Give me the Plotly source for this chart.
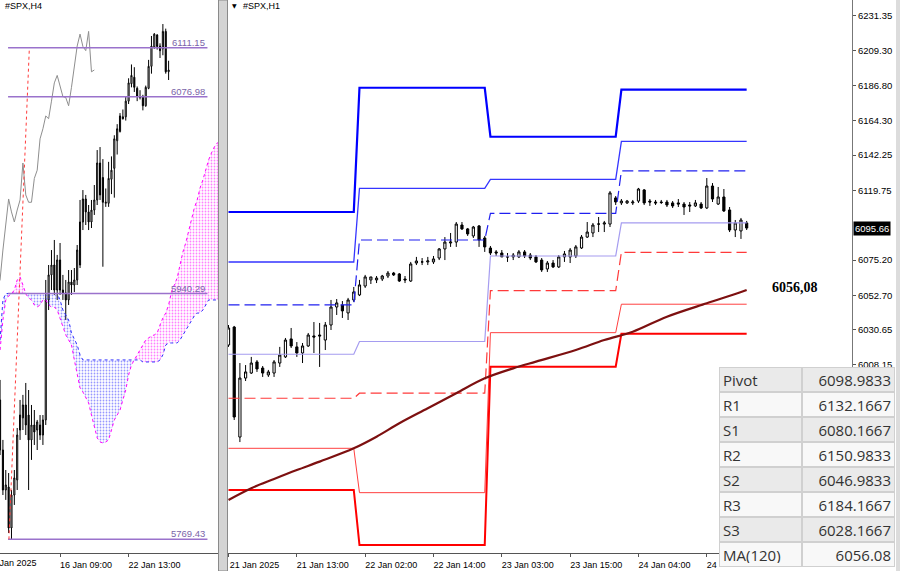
import plotly.graph_objects as go

# ====================== DATA ======================
# ---- right panel: #SPX,H1 (bar 0 = 21 Jan 01:00) ----
h1_open = [6020.9, 6032.4, 5962.1, 5999.8, 6003.0, 6010.1, 6006.2, 6001.8, 6003.0, 6009.4,
           6013.3, 6024.8, 6019.7, 6015.8, 6020.3, 6026.7, 6027.3, 6024.1, 6033.7, 6045.2,
           6046.5, 6041.4, 6049.7, 6052.9, 6058.6, 6062.5, 6062.5, 6063.1, 6065.0, 6066.9,
           6066.3, 6063.1, 6061.8, 6073.3, 6074.0, 6074.0, 6074.0, 6076.5, 6082.3, 6086.1,
           6086.7, 6097.6, 6095.1, 6090.6, 6097.0, 6089.3, 6082.9, 6080.4, 6079.7, 6077.2,
           6077.2, 6077.2, 6080.4, 6078.4, 6077.2, 6075.2, 6069.5, 6073.3, 6070.8, 6077.2,
           6077.2, 6077.8, 6082.9, 6089.9, 6092.5, 6098.2, 6098.2, 6098.2, 6114.9, 6111.7,
           6111.7, 6111.7, 6112.9, 6120.0, 6112.9, 6112.3, 6112.3, 6112.3, 6111.7, 6111.7,
           6111.0, 6110.4, 6109.8, 6111.0, 6108.5, 6122.5, 6111.0, 6115.5, 6107.2, 6094.4,
           6093.8, 6098.9]
h1_high = [6033.7, 6033.1, 6009.4, 6008.1, 6013.3, 6011.3, 6007.5, 6005.0, 6011.3, 6019.7,
           6025.4, 6031.8, 6022.8, 6022.2, 6028.6, 6035.6, 6035.0, 6035.6, 6049.7, 6050.3,
           6049.0, 6051.0, 6058.0, 6062.5, 6065.7, 6064.4, 6065.0, 6065.7, 6068.2, 6067.6,
           6066.9, 6065.0, 6074.0, 6077.2, 6076.5, 6077.2, 6077.8, 6082.9, 6089.9, 6092.5,
           6099.5, 6099.5, 6095.7, 6097.0, 6097.6, 6090.6, 6084.2, 6081.6, 6081.6, 6079.7,
           6079.7, 6081.6, 6081.6, 6079.7, 6078.4, 6076.5, 6074.6, 6075.2, 6078.4, 6081.0,
           6082.9, 6084.8, 6091.2, 6099.5, 6098.9, 6102.7, 6100.2, 6119.3, 6116.1, 6114.2,
           6113.6, 6113.6, 6121.3, 6120.6, 6114.2, 6113.6, 6113.6, 6113.6, 6112.9, 6114.2,
           6112.3, 6112.3, 6113.6, 6112.3, 6127.6, 6124.4, 6121.9, 6120.6, 6109.1, 6100.8,
           6102.1, 6100.2]
h1_low = [6019.7, 5973.0, 5958.9, 5997.9, 6002.4, 6003.7, 6000.5, 6000.5, 6000.5, 6006.9,
          6012.6, 6019.0, 6013.3, 6009.4, 6019.7, 6015.8, 6006.9, 6017.7, 6030.5, 6040.1,
          6038.2, 6036.9, 6048.4, 6052.2, 6057.4, 6059.9, 6060.5, 6061.8, 6063.7, 6065.0,
          6061.2, 6060.5, 6061.2, 6072.0, 6072.0, 6072.0, 6072.7, 6075.2, 6075.2, 6083.6,
          6083.6, 6094.4, 6090.6, 6089.3, 6083.6, 6080.4, 6078.4, 6077.8, 6077.2, 6074.0,
          6075.2, 6076.5, 6076.5, 6075.2, 6073.3, 6067.6, 6067.6, 6070.1, 6070.1, 6074.0,
          6073.3, 6076.5, 6082.3, 6089.3, 6089.9, 6093.1, 6093.1, 6096.3, 6110.4, 6110.4,
          6111.0, 6110.4, 6111.7, 6110.4, 6109.8, 6110.4, 6111.0, 6109.1, 6108.5, 6109.1,
          6104.0, 6105.9, 6109.1, 6107.8, 6107.8, 6112.3, 6110.4, 6105.9, 6093.1, 6089.9,
          6088.7, 6094.4]
h1_close = [6031.8, 5974.9, 5999.8, 6003.7, 6009.4, 6005.6, 6003.0, 6003.7, 6010.1, 6014.5,
            6024.1, 6020.3, 6015.8, 6020.3, 6027.3, 6026.0, 6026.7, 6033.7, 6045.2, 6047.8,
            6042.7, 6049.7, 6054.8, 6059.3, 6064.4, 6064.4, 6063.7, 6065.0, 6066.9, 6065.7,
            6061.8, 6062.5, 6072.7, 6074.6, 6074.0, 6074.6, 6075.9, 6082.3, 6086.7, 6086.7,
            6098.2, 6095.1, 6091.9, 6096.3, 6088.0, 6083.6, 6079.7, 6079.7, 6077.2, 6077.2,
            6078.4, 6080.4, 6077.8, 6076.5, 6074.0, 6068.9, 6073.3, 6070.8, 6077.2, 6079.1,
            6081.6, 6083.6, 6089.9, 6093.1, 6097.6, 6098.2, 6098.9, 6118.1, 6112.3, 6112.9,
            6112.9, 6112.3, 6120.6, 6111.7, 6112.3, 6111.7, 6112.0, 6110.4, 6109.8, 6111.0,
            6109.1, 6109.8, 6111.7, 6108.5, 6122.5, 6114.2, 6115.5, 6106.6, 6094.4, 6098.9,
            6100.8, 6095.66]
h1_tick_bars = [0, 12, 24, 36, 48, 60, 72, 84]
h1_tick_text = ["21 Jan 2025", "21 Jan 13:00", "22 Jan 02:00", "22 Jan 14:00",
                "23 Jan 03:00", "23 Jan 15:00", "24 Jan 04:00", "24 Jan 16:00"]
h1_price_ticks = [6231.35, 6209.30, 6186.80, 6164.30, 6142.25, 6119.75,
                  6075.20, 6052.70, 6030.65, 6008.15]
last_price = 6095.66

# daily pivot levels (4 sessions)
day_first_bar = [0, 23, 46, 69]
day_last_bar = [22, 45, 68, 91]
r3_levels = [6105.9, 6185.3, 6154.0, 6184.1667]
r2_levels = [6073.95, 6121.05, 6126.8, 6150.9833]
r1_levels = [6046.5, 6088.0, 6105.05, 6132.1667]
pp_levels = [6015.0, 6023.15, 6077.8, 6098.9833]
s1_levels = [5986.9, 5990.1, 6055.6, 6080.1667]
s2_levels = [5954.9, 5926.55, 6028.8, 6046.9833]
s3_levels = [5928.3, 5893.1, 6007.05, 6028.1667]

# MA(120)
ma_bars = [0, 4, 8, 12, 16, 22, 26, 30, 35, 40, 45, 50, 54, 61, 66, 71, 77, 84, 89, 91]
ma_values = [5921.9, 5929.4, 5935.3, 5941.0, 5946.4, 5954.9, 5962.3, 5970.9, 5980.5, 5990.1,
             5999.6, 6006.0, 6010.3, 6017.7, 6024.1, 6029.4, 6039.0, 6047.6, 6053.5, 6056.08]
ma_label = "6056,08"

# table
tbl_names = ["Pivot", "R1", "S1", "R2", "S2", "R3", "S3", "MA(120)"]
tbl_values = [6098.9833, 6132.1667, 6080.1667, 6150.9833, 6046.9833, 6184.1667, 6028.1667, 6056.08]

# ---- left panel: #SPX,H4 (bars 3..62) ----
h4_first_bar = 3
h4_open = [5866.3, 5831.5, 5803.7, 5805.8, 5777.3, 5800.2, 5810.7, 5845.4, 5853.8, 5862.8,
           5855.8, 5838.5, 5848.9, 5845.4, 5848.9, 5841.9, 5852.4, 5935.8, 5953.2, 5960.1,
           5942.7, 5963.6, 5942.7, 5940.7, 5935.8, 5948.3, 5946.2, 5949.7, 5960.1, 5990.0,
           6006.0, 5997.0, 5990.0, 5998.3, 6005.3, 6031.0, 6020.9, 6003.0, 6003.0, 6019.7,
           6027.3, 6046.5, 6052.9, 6063.1, 6063.1, 6074.0, 6086.1, 6090.6, 6082.9, 6077.2,
           6077.2, 6070.8, 6082.9, 6098.2, 6111.7, 6120.0, 6112.3, 6110.4, 6122.5, 6094.4]
h4_high = [5880.2, 5838.5, 5817.6, 5815.5, 5803.7, 5817.6, 5846.8, 5866.3, 5869.8, 5878.1,
           5873.2, 5862.8, 5859.3, 5852.4, 5855.8, 5855.8, 5949.7, 5960.1, 5970.5, 5977.5,
           5967.1, 5975.4, 5953.2, 5949.7, 5956.6, 5956.6, 5958.0, 5974.0, 6005.3, 6012.2,
           6008.8, 6001.8, 6005.3, 6015.7, 6040.0, 6042.1, 6033.7, 6013.3, 6031.8, 6035.6,
           6050.3, 6058.0, 6065.7, 6068.2, 6077.2, 6089.9, 6099.5, 6097.6, 6084.2, 6081.6,
           6078.4, 6084.8, 6102.7, 6119.3, 6121.3, 6120.6, 6114.2, 6127.6, 6124.4, 6102.1]
h4_low = [5828.0, 5800.2, 5796.8, 5773.8, 5769.43, 5793.3, 5803.7, 5838.5, 5845.4, 5841.9,
          5803.7, 5824.6, 5835.0, 5831.5, 5838.5, 5835.0, 5848.9, 5928.8, 5942.7, 5939.3,
          5935.8, 5939.3, 5935.8, 5921.9, 5932.3, 5939.3, 5941.3, 5946.2, 5958.0, 5984.4,
          5987.9, 5984.4, 5985.8, 5994.9, 6001.8, 6005.3, 5958.9, 6000.5, 6000.5, 6009.4,
          6006.9, 6036.9, 6052.2, 6061.2, 6060.5, 6072.0, 6083.6, 6080.4, 6074.0, 6075.2,
          6067.6, 6070.1, 6082.3, 6093.1, 6110.4, 6109.8, 6104.0, 6105.9, 6093.1, 6088.7]
h4_close = [5831.5, 5803.7, 5807.2, 5777.3, 5800.2, 5812.1, 5841.9, 5855.8, 5862.8, 5848.9,
            5838.5, 5848.9, 5844.0, 5851.0, 5841.9, 5852.4, 5935.8, 5953.2, 5960.1, 5942.7,
            5963.6, 5942.7, 5940.7, 5935.8, 5948.3, 5946.2, 5949.7, 5970.5, 5990.0, 6006.0,
            5997.0, 5990.0, 5998.3, 6005.3, 6031.0, 6008.8, 6003.7, 6003.7, 6020.3, 6026.0,
            6047.8, 6054.8, 6063.7, 6061.8, 6074.0, 6086.7, 6091.9, 6083.6, 6077.2, 6076.5,
            6070.8, 6083.6, 6098.2, 6112.3, 6120.6, 6112.0, 6109.1, 6122.5, 6094.4, 6095.66]
h4_tick_bars = [24, 48]
h4_tick_text = ["16 Jan 09:00", "22 Jan 13:00"]
h4_first_label = "13 Jan 2025"
chikou_shift = 26

# Ichimoku cloud spans (bars 3..80)
kumo_first_bar = 3
kumo_span_a = [5901.0, 5921.9, 5935.8, 5938.6, 5940.0, 5942.7, 5949.7, 5951.8, 5946.2, 5940.0,
               5937.2, 5935.8, 5932.3, 5930.9, 5932.3, 5935.8, 5935.8, 5932.3, 5930.9, 5930.9,
               5928.8, 5923.3, 5918.4, 5911.5, 5908.0, 5904.5, 5894.1, 5883.7, 5874.6, 5871.8,
               5867.7, 5864.2, 5855.8, 5846.8, 5839.9, 5837.1, 5836.4, 5837.1, 5838.5, 5845.4,
               5852.4, 5855.8, 5859.3, 5866.3, 5873.2, 5883.7, 5890.6, 5894.1, 5897.6, 5901.0,
               5904.5, 5908.0, 5909.4, 5910.8, 5911.5, 5912.8, 5918.4, 5923.3, 5926.7, 5932.3,
               5941.3, 5946.2, 5951.1, 5960.1, 5969.1, 5975.4, 5983.1, 5991.4, 5999.7, 6005.3,
               6013.6, 6019.2, 6026.1, 6033.1, 6038.0, 6042.1, 6044.9, 6045.6]
kumo_span_b = [5908.0, 5935.8, 5940.29, 5940.29, 5940.29, 5940.29, 5940.29, 5940.29, 5940.29, 5940.29,
               5940.29, 5940.29, 5940.29, 5940.29, 5940.29, 5940.29, 5940.29, 5940.29, 5940.29, 5940.29,
               5940.29, 5935.8, 5928.8, 5925.4, 5921.9, 5912.8, 5908.0, 5904.5, 5897.6, 5894.1,
               5894.1, 5894.1, 5894.1, 5894.1, 5894.1, 5894.1, 5894.1, 5894.1, 5894.1, 5894.1,
               5894.1, 5894.1, 5894.1, 5894.1, 5894.1, 5894.1, 5894.1, 5894.1, 5894.1, 5894.1,
               5892.7, 5892.7, 5892.7, 5892.7, 5892.7, 5892.7, 5894.1, 5897.6, 5904.5, 5905.9,
               5905.9, 5905.9, 5905.9, 5908.0, 5911.5, 5914.9, 5918.4, 5921.9, 5924.7, 5926.7,
               5926.7, 5928.8, 5932.3, 5935.8, 5935.8, 5935.8, 5935.8, 5935.8]

# Fibonacci object
fibo_levels = [6111.15, 6076.98, 5940.29, 5769.43]
fibo_bar_start, fibo_bar_end = 5.8, 75.6
fibo_trend_bars = [6.1, 13.26]
fibo_trend_prices = [5769.43, 6111.15]

# ====================== FIGURE ======================
W, H = 900, 571
FONT = "Liberation Sans"
BLUE_K = "#2f2fff"
MAG_K = "#ff00ff"

fig = go.Figure()

# ---------- LEFT PANEL ----------
kx = [kumo_first_bar + i for i in range(len(kumo_span_a))]
segs = []
cx, ca, cb = [kx[0]], [kumo_span_a[0]], [kumo_span_b[0]]
up = kumo_span_a[0] > kumo_span_b[0]
for i in range(1, len(kx)):
    s = kumo_span_a[i] > kumo_span_b[i]
    if s != up:
        d0 = kumo_span_a[i - 1] - kumo_span_b[i - 1]
        d1 = kumo_span_a[i] - kumo_span_b[i]
        t = d0 / (d0 - d1) if d0 != d1 else 0.0
        xc = kx[i - 1] + t * (kx[i] - kx[i - 1])
        yc = kumo_span_a[i - 1] + t * (kumo_span_a[i] - kumo_span_a[i - 1])
        cx.append(xc); ca.append(yc); cb.append(yc)
        segs.append((up, cx, ca, cb))
        cx, ca, cb = [xc], [yc], [yc]
        up = s
    cx.append(kx[i]); ca.append(kumo_span_a[i]); cb.append(kumo_span_b[i])
segs.append((up, cx, ca, cb))

for up, sx, sa, sb in segs:
    col = MAG_K if up else BLUE_K
    fig.add_trace(go.Scatter(
        x=sx + sx[::-1], y=sa + sb[::-1], mode="lines", fill="toself",
        line=dict(width=0), fillcolor="rgba(0,0,0,0)",
        fillpattern=dict(shape=".", fgcolor=col, size=3, solidity=0.28),
        xaxis="x", yaxis="y", hoverinfo="skip", showlegend=False))

fig.add_trace(go.Scatter(x=kx, y=kumo_span_b, mode="lines",
                         line=dict(color=BLUE_K, width=1, dash="dot"),
                         xaxis="x", yaxis="y", hoverinfo="skip", showlegend=False))
fig.add_trace(go.Scatter(x=kx, y=kumo_span_a, mode="lines",
                         line=dict(color=MAG_K, width=1, dash="dot"),
                         xaxis="x", yaxis="y", hoverinfo="skip", showlegend=False))

h4_x = [h4_first_bar + i for i in range(len(h4_close))]
fig.add_trace(go.Scatter(x=[b - chikou_shift for b in h4_x], y=h4_close, mode="lines",
                         line=dict(color="#8e8e8e", width=1),
                         xaxis="x", yaxis="y", hoverinfo="skip", showlegend=False))

for lv in fibo_levels:
    fig.add_trace(go.Scatter(x=[fibo_bar_start, fibo_bar_end], y=[lv, lv], mode="lines",
                             line=dict(color="#9a72cc", width=1.5),
                             xaxis="x", yaxis="y", hoverinfo="skip", showlegend=False))
    fig.add_annotation(x=fibo_bar_end, y=lv, xref="x", yref="y", text=f"{lv:.2f}",
                       showarrow=False, xanchor="right", yanchor="bottom", yshift=-2,
                       font=dict(family=FONT, size=9.5, color="#7a64a8"))
fig.add_trace(go.Scatter(x=fibo_trend_bars, y=fibo_trend_prices, mode="lines",
                         line=dict(color="#ff3b3b", width=1, dash="dot"),
                         xaxis="x", yaxis="y", hoverinfo="skip", showlegend=False))

fig.add_trace(go.Candlestick(
    x=h4_x, open=h4_open, high=h4_high, low=h4_low, close=h4_close,
    increasing=dict(line=dict(color="black", width=1), fillcolor="white"),
    decreasing=dict(line=dict(color="black", width=1), fillcolor="black"),
    whiskerwidth=0, xaxis="x", yaxis="y", hoverinfo="skip", showlegend=False))

# ---------- RIGHT PANEL ----------
def level_path(levels):
    xs, ys = [], []
    for d in range(len(levels)):
        xs += [day_first_bar[d], day_last_bar[d]]
        ys += [levels[d], levels[d]]
    return xs, ys

level_styles = [
    (r3_levels, "#0000ff", 2.2, "solid"),
    (r2_levels, "#3535ff", 1.3, "solid"),
    (r1_levels, "#2020f0", 1.2, "11px,5px"),
    (pp_levels, "#a59cf0", 1.2, "solid"),
    (s1_levels, "#ff3a3a", 1.2, "11px,5px"),
    (s2_levels, "#ff4040", 1.0, "solid"),
    (s3_levels, "#ff0000", 2.0, "solid"),
]
for lv, col, w, dash in level_styles:
    xs, ys = level_path(lv)
    fig.add_trace(go.Scatter(x=xs, y=ys, mode="lines", line=dict(color=col, width=w, dash=dash),
                             xaxis="x2", yaxis="y2", hoverinfo="skip", showlegend=False))

fig.add_trace(go.Scatter(x=ma_bars, y=ma_values, mode="lines", line=dict(color="#7d1010", width=2.2),
                         line_shape="spline", xaxis="x2", yaxis="y2", hoverinfo="skip", showlegend=False))

h1_x = list(range(len(h1_close)))
fig.add_trace(go.Candlestick(
    x=h1_x, open=h1_open, high=h1_high, low=h1_low, close=h1_close,
    increasing=dict(line=dict(color="black", width=1), fillcolor="white"),
    decreasing=dict(line=dict(color="black", width=1), fillcolor="black"),
    whiskerwidth=0, xaxis="x2", yaxis="y2", hoverinfo="skip", showlegend=False))

# ---------- annotations ----------
fig.add_annotation(x=3 / W, y=1 - 6 / H, xref="paper", yref="paper", text="#SPX,H4",
                   showarrow=False, xanchor="left", yanchor="middle",
                   font=dict(family=FONT, size=9, color="black"))
fig.add_annotation(x=230 / W, y=1 - 6 / H, xref="paper", yref="paper", text="▼",
                   showarrow=False, xanchor="left", yanchor="middle",
                   font=dict(family="DejaVu Sans", size=6, color="black"))
fig.add_annotation(x=241 / W, y=1 - 6 / H, xref="paper", yref="paper", text="#SPX,H1",
                   showarrow=False, xanchor="left", yanchor="middle",
                   font=dict(family=FONT, size=9, color="black"))
fig.add_annotation(x=39 / W, y=8 / H, xref="paper", yref="paper", text=h4_first_label,
                   showarrow=False, xanchor="right", yanchor="middle",
                   font=dict(family=FONT, size=9, color="black"))
fig.add_annotation(x=99.5, y=ma_values[-1], xref="x2", yref="y2", text=f"<b>{ma_label}</b>",
                   showarrow=False, xanchor="center", yanchor="middle", yshift=2,
                   font=dict(family="Liberation Serif", size=14, color="black"))
fig.add_annotation(x=853 / W, y=last_price, xref="paper", yref="y2", text=f"{last_price:.2f}",
                   showarrow=False, xanchor="left", yanchor="middle", bgcolor="black",
                   borderpad=1, font=dict(family=FONT, size=9.5, color="white"))

# ---------- table (opaque cell boxes, drawn on top of everything) ----------
T_X0, T_XM, T_X1 = 719, 802, 895
T_Y0, ROW_H = 367, 25
PAD, BW = 3, 1
row_fill = ["#eaeaea" if i % 2 == 0 else "#f8f8f8" for i in range(len(tbl_names))]
tbl_text = [f"{v:.4f}" for v in tbl_values[:-1]] + [f"{tbl_values[-1]:.2f}"]
tfont = dict(family="Open Sans", size=15, color="#333333")
# blank strip under the last row (window bottom)
fig.add_annotation(x=T_X0 / W, y=1 - (T_Y0 + len(tbl_names) * ROW_H - 1) / H, xref="paper", yref="paper",
                   xanchor="left", yanchor="top", text=" ", showarrow=False,
                   width=T_X1 - T_X0, height=8, bgcolor="white", borderpad=0, borderwidth=0)
for i, (nm, tx) in enumerate(zip(tbl_names, tbl_text)):
    y_top = T_Y0 + i * ROW_H
    for xa, xb, txt, al in [(T_X0, T_XM, nm, "left"), (T_XM, T_X1, tx, "right")]:
        fig.add_annotation(x=xa / W, y=1 - y_top / H, xref="paper", yref="paper",
                           xanchor="left", yanchor="top", text=txt, showarrow=False,
                           align=al, valign="middle",
                           width=(xb - xa) - 2 * (PAD + BW), height=ROW_H - 2 * (PAD + BW),
                           bgcolor=row_fill[i], bordercolor="#d0d0d0", borderwidth=BW,
                           borderpad=PAD, font=tfont)

# ---------- shapes ----------
fig.add_shape(type="rect", xref="paper", yref="paper", x0=218.5 / W, x1=227.5 / W, y0=0, y1=1,
              fillcolor="#d4d4d4", line=dict(color="#8a8a8a", width=1), layer="above")
fig.add_shape(type="rect", xref="paper", yref="paper", x0=896 / W, x1=1, y0=0, y1=1,
              fillcolor="#dcdcdc", line=dict(width=0), layer="below")

# ---------- axes ----------
axis_common = dict(showgrid=False, zeroline=False, fixedrange=True)
fig.update_layout(
    width=W, height=H, margin=dict(l=0, r=0, t=0, b=0),
    paper_bgcolor="white", plot_bgcolor="white", showlegend=False,
    boxgap=0.45,
    xaxis=dict(domain=[0, 218.5 / W], range=[2.98, 79.47], anchor="y",
               showline=True, linecolor="#555555", linewidth=1,
               ticks="outside", ticklen=3, tickcolor="#555555",
               tickvals=h4_tick_bars, ticktext=h4_tick_text, ticklabelshift=26,
               tickfont=dict(family=FONT, size=9, color="black"),
               rangeslider=dict(visible=False), **axis_common),
    yaxis=dict(domain=[18 / H, 1], range=[5759.9, 6144.31], anchor="x",
               showticklabels=False, showline=False, **axis_common),
    xaxis2=dict(domain=[228 / W, 852 / W], range=[-0.09, 109.5], anchor="y2",
                showline=True, linecolor="#555555", linewidth=1,
                ticks="outside", ticklen=3, tickcolor="#555555",
                tickvals=h1_tick_bars, ticktext=h1_tick_text, ticklabelshift=26,
                tickfont=dict(family=FONT, size=9, color="black"),
                rangeslider=dict(visible=False), **axis_common),
    yaxis2=dict(domain=[18 / H, 1], range=[5888.0, 6241.38], anchor="x2", side="right",
                showline=True, linecolor="#777777", linewidth=1,
                ticks="outside", ticklen=3, tickcolor="#555555",
                tickvals=h1_price_ticks, ticktext=[f"{v:.2f}" for v in h1_price_ticks],
                tickfont=dict(family=FONT, size=9.5, color="black"), **axis_common),
)

fig.write_html("out.html", config={"displayModeBar": False},
               post_script="document.body.style.margin='0';")
